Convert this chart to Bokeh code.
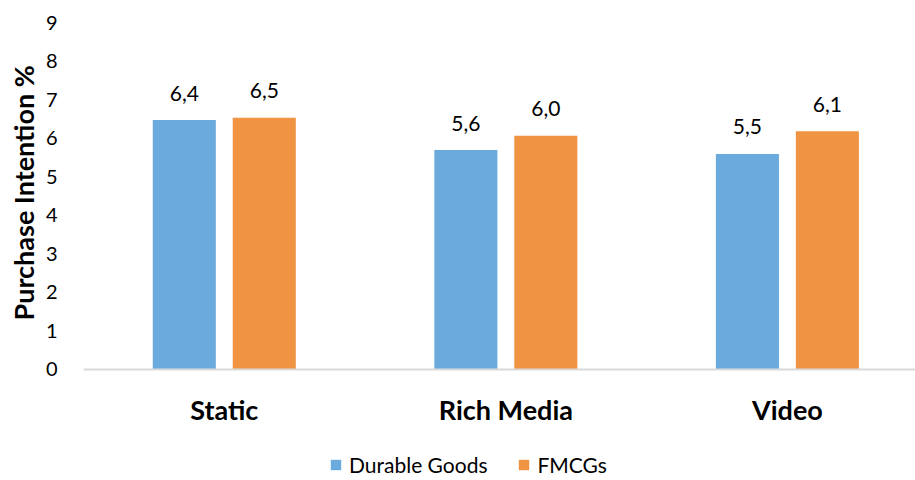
import math
import numpy as np
from bokeh.plotting import figure
from bokeh.models import ColumnDataSource, Range1d, FixedTicker, Legend, LegendItem, Title
from bokeh.core.properties import value
from bokeh.embed import file_html
from bokeh.resources import INLINE

categories = ["Static", "Rich Media", "Video"]
durable_goods = [6.47, 5.69, 5.59]
fmcgs = [6.53, 6.06, 6.18]
y_ticks = [0, 1, 2, 3, 4, 5, 6, 7, 8, 9]
y_title = "Purchase Intention %"

FONT = "Lato"
BLUE = "#6BAADC"
ORANGE = "#F09342"

def fmt(v):
    return ("%.1f" % (math.floor(v * 10 + 1e-9) / 10)).replace(".", ",")

idx = np.arange(len(categories)) + 0.5
bar_w = 0.224
off = 0.142

# frame runs from y=22 (value 9) to the bottom of the page; value 0 sits at y=369
p = figure(width=915, height=480, output_backend="svg", toolbar_location=None,
           x_range=Range1d(0, 2.955), y_range=Range1d(-2.879, 9),
           min_border_left=83, min_border_right=0, min_border_top=22, min_border_bottom=0)
p.outline_line_color = None
p.xgrid.visible = False
p.ygrid.visible = False

src_a = ColumnDataSource(dict(x=idx - off, top=durable_goods, label=[fmt(v) for v in durable_goods]))
src_b = ColumnDataSource(dict(x=idx + off, top=fmcgs, label=[fmt(v) for v in fmcgs]))

ra = p.vbar(x="x", top="top", width=bar_w, bottom=0, source=src_a, fill_color=BLUE, line_color=None)
rb = p.vbar(x="x", top="top", width=bar_w, bottom=0, source=src_b, fill_color=ORANGE, line_color=None)

for s in (src_a, src_b):
    p.text(x="x", y="top", text="label", source=s, text_align="center", text_baseline="alphabetic",
           y_offset=-27, text_font=value(FONT), text_font_size="21px", text_color="#000000")

# x axis (pinned at value 0)
p.xaxis.fixed_location = 0
p.xaxis.ticker = FixedTicker(ticks=list(idx))
p.xaxis.major_label_overrides = {float(x): c for x, c in zip(idx, categories)}
p.xaxis.axis_line_color = "#D9D9D9"
p.xaxis.axis_line_width = 2
p.xaxis.major_tick_line_color = None
p.xaxis.minor_tick_line_color = None
p.xaxis.major_label_standoff = 18
p.xaxis.major_label_text_font = FONT
p.xaxis.major_label_text_font_style = "bold"
p.xaxis.major_label_text_font_size = "27px"
p.xaxis.major_label_text_color = "#000000"

# y axis
p.yaxis.ticker = FixedTicker(ticks=y_ticks)
p.yaxis.axis_line_color = None
p.yaxis.major_tick_line_color = None
p.yaxis.minor_tick_line_color = None
p.yaxis.major_label_standoff = 20
p.yaxis.major_label_text_font = FONT
p.yaxis.major_label_text_font_size = "20px"
p.yaxis.major_label_text_color = "#000000"

# y title, centred on the 0..9 part of the axis
p.add_layout(Title(text=y_title, align="left", offset=160, standoff=6,
                   text_font=FONT, text_font_style="bold", text_font_size="27px",
                   text_color="#000000"), "left")

legend = Legend(items=[LegendItem(label="Durable Goods", renderers=[ra]),
                       LegendItem(label="FMCGs", renderers=[rb])],
                orientation="horizontal", location=(246, 3))
legend.border_line_color = None
legend.background_fill_alpha = 0
legend.glyph_width = 13
legend.glyph_height = 13
legend.label_standoff = 7
legend.spacing = 30
legend.padding = 0
legend.margin = 0
legend.label_text_font = FONT
legend.label_text_font_size = "21px"
legend.label_text_color = "#000000"
p.add_layout(legend, "center")

open("out.html", "w").write(file_html(p, INLINE))
